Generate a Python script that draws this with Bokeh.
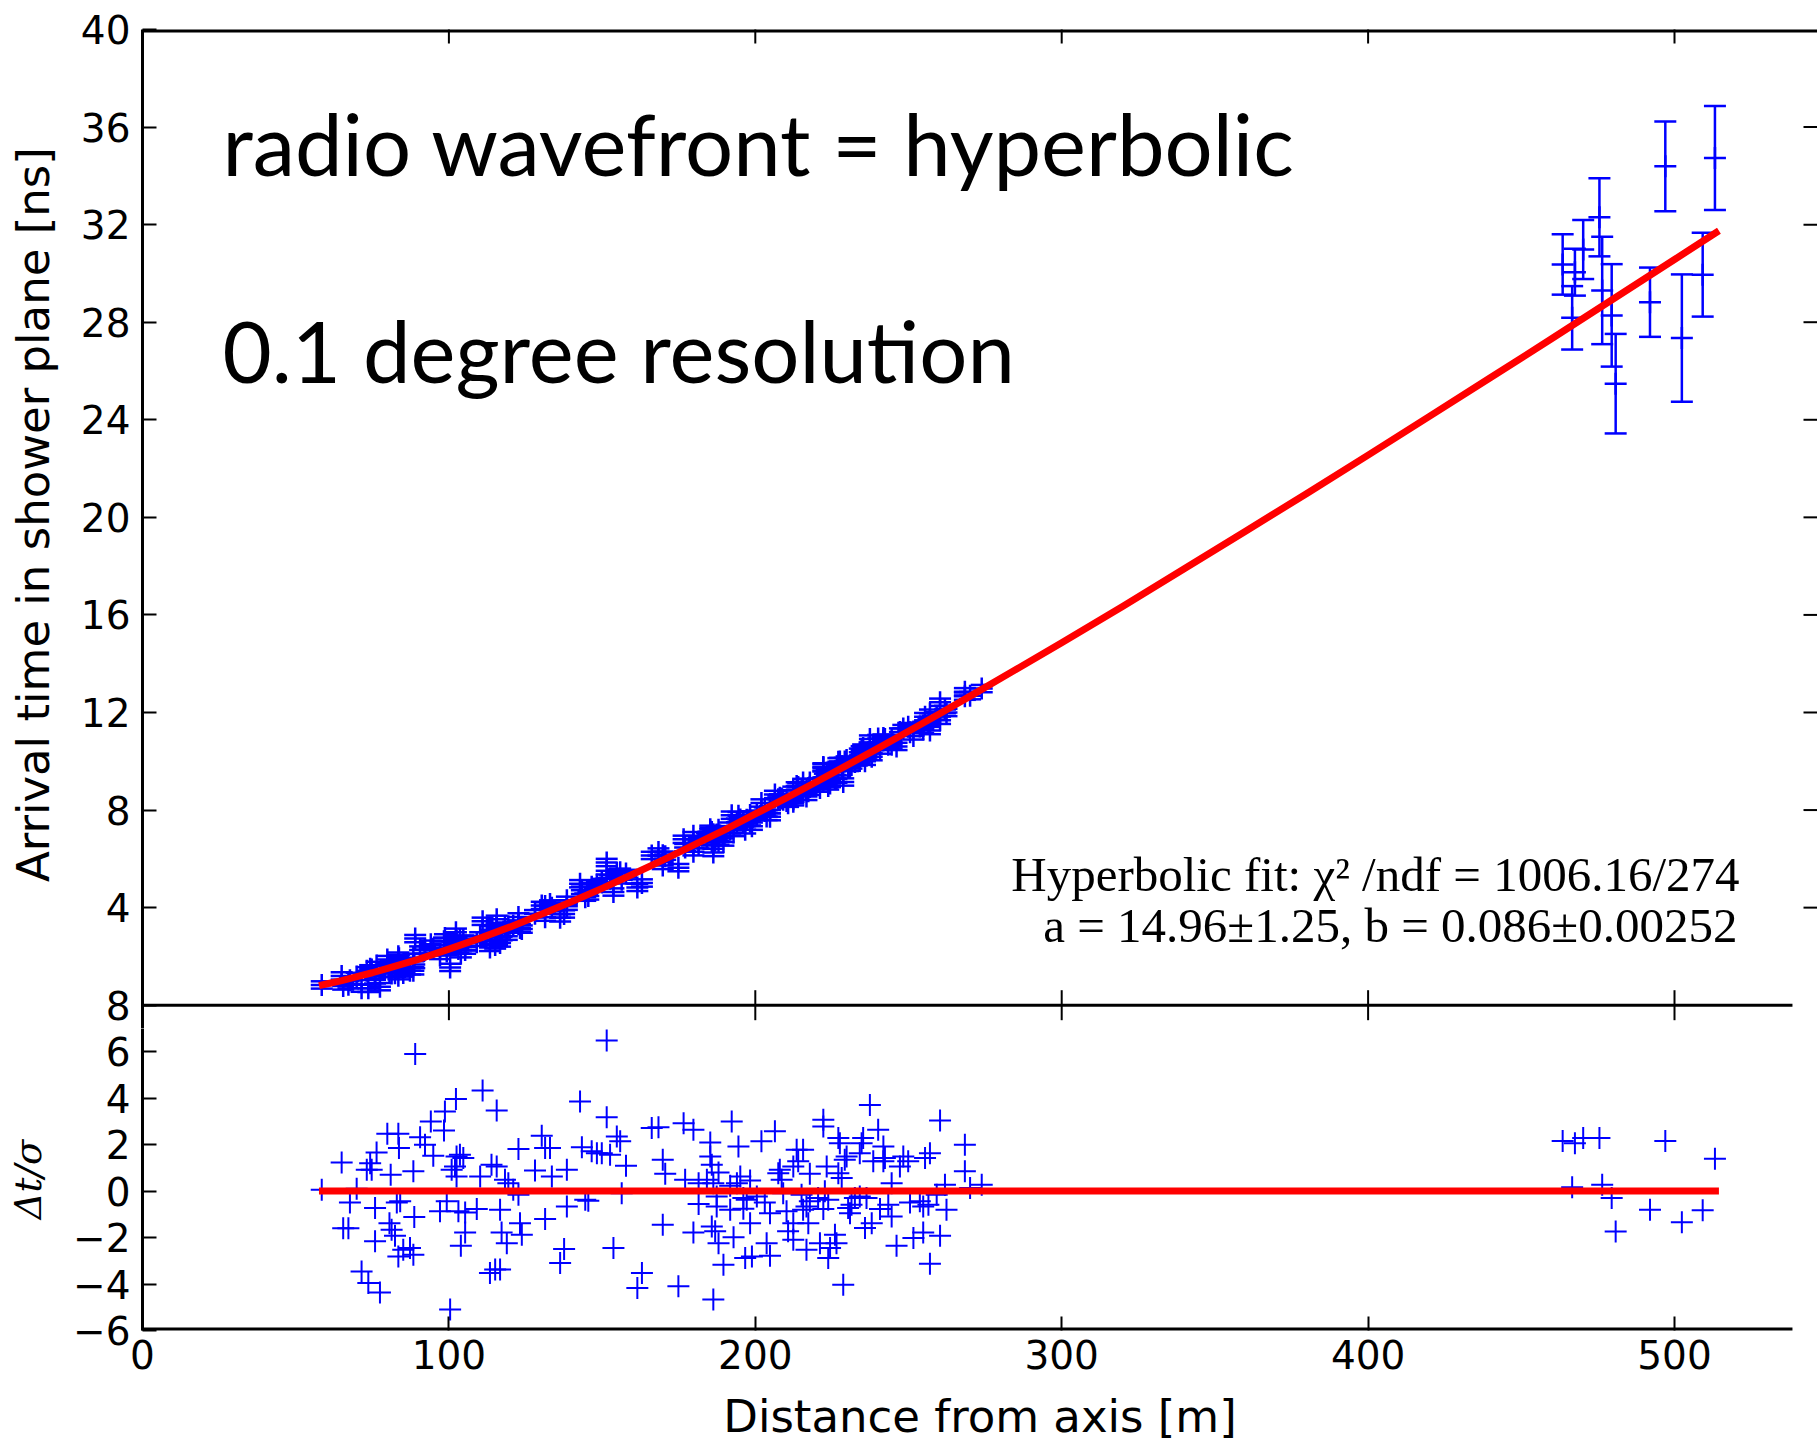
import math
from bokeh.plotting import figure
from bokeh.layouts import column
from bokeh.models import Range1d, FixedTicker, ColumnDataSource, Whisker, TeeHead, Label
from bokeh.embed import file_html
from bokeh.resources import INLINE

# ---------------- data ----------------
# dense group of antennas: distance [m], arrival time [ns], error [ns], residual dt/sigma
near_dist = [
    58.5, 65.0, 67.7, 69.9, 65.5, 67.2, 71.5, 73.7, 77.5, 73.2, 74.8, 74.3, 76.4, 75.9,
    79.9, 83.5, 83.7, 81.0, 75.9, 83.0, 84.1, 80.6, 81.3, 82.4, 83.5, 85.1, 87.3, 88.4,
    89.0, 88.4, 88.7, 90.6, 92.2, 94.1, 94.9, 98.4, 98.7, 102.3, 100.4, 99.3, 97.1, 100.9,
    102.0, 102.5, 103.6, 104.7, 103.1, 105.3, 105.3, 103.9, 102.5, 109.1, 111.0, 115.6,
    113.9, 115.6, 110.2, 116.7, 117.2, 118.9, 113.4, 115.1, 116.7, 118.3, 119.4, 121.0,
    122.7, 123.2, 123.8, 122.7,
    130.3, 131.4, 133.0, 128.1, 133.6, 138.5, 131.4, 138.5, 137.6, 136.3, 142.8, 143.4,
    144.5, 145.5, 146.6, 148.3, 149.9, 151.5, 151.5, 152.6, 154.8, 155.9, 156.4, 157.8,
    153.7, 163.0, 161.5, 166.2, 168.4, 169.8, 170.6, 169.8, 174.9, 176.6, 177.1, 179.8,
    179.8, 181.5, 181.5, 185.3, 185.3, 185.8, 186.3, 185.8, 186.9, 187.4, 188.0, 188.0,
    186.3, 189.6, 191.8, 192.3, 192.9, 194.5, 195.1, 196.1, 196.1, 196.7, 198.3, 198.3,
    198.9,
    202.0, 206.4, 203.1, 204.8, 203.7, 204.8, 208.0, 208.6, 209.1, 210.2, 210.7, 212.4,
    213.5, 214.0, 215.6, 216.7, 217.3, 217.8, 217.8, 216.7, 222.2, 222.2, 222.2, 223.3,
    223.8, 224.4, 226.0, 227.1, 227.6, 227.1, 228.7, 229.2, 229.8, 230.3, 230.9, 232.5,
    234.1, 234.7, 235.2, 235.8, 236.3, 237.4, 238.5, 240.1, 241.8, 241.8, 242.3, 244.5,
    244.5, 246.1, 248.3, 250.5, 251.6, 254.8, 255.4, 257.0, 256.5, 254.8, 257.0, 260.3,
    260.3, 261.9, 262.4, 268.4, 268.4, 270.1, 273.9,
    207.5, 212.4, 215.1, 215.6, 220.5, 222.7, 223.8, 228.2, 231.4, 234.1, 238.0, 240.7,
    243.4, 247.2, 249.9, 253.7, 259.2, 212.4, 221.1, 226.5, 184.2, 194.0, 197.2, 200.5,
    187.4, 191.8,
]
near_time = [
    0.83, 1.20, 1.02, 1.18, 0.79, 0.84, 0.70, 0.69, 0.76, 1.41, 1.46, 1.49, 1.63, 1.04,
    1.87, 2.01, 1.92, 1.65, 1.25, 1.54, 1.59, 1.32, 1.30, 1.31, 1.21, 1.32, 1.41, 1.41,
    2.73, 1.95, 1.67, 2.26, 2.27, 2.50, 2.31, 2.62, 2.76, 2.99, 1.55, 2.20, 2.04, 2.47,
    2.54, 2.63, 2.69, 2.71, 2.30, 2.39, 2.26, 2.11, 2.50, 2.58, 3.44, 3.52, 3.09, 3.16,
    2.84, 2.94, 2.81, 2.83, 2.37, 2.47, 2.55, 3.21, 3.24, 3.27, 3.62, 3.17, 3.12, 3.32,
    4.09, 4.07, 4.15, 3.75, 4.00, 4.30, 3.61, 4.06, 3.74, 3.58, 4.98, 4.71, 4.43, 4.48,
    4.86, 4.94, 5.03, 5.85, 5.36, 5.18, 5.42, 5.45, 5.14, 5.40, 4.64, 5.01, 4.83, 6.14,
    6.28, 6.15, 6.11, 5.73, 5.64, 6.80, 6.46, 6.95, 6.29, 6.71, 6.58, 7.21, 7.12, 7.10,
    7.01, 6.70, 6.74, 6.93, 7.19, 6.73, 6.26, 6.69, 7.34, 7.79, 7.08, 7.77, 7.61, 7.54,
    7.47, 7.19, 7.52, 7.80, 7.34,
    8.29, 8.64, 7.96, 8.01, 7.74, 7.73, 8.50, 8.47, 8.42, 8.37, 8.28, 8.34, 8.99, 8.95,
    9.13, 8.84, 8.77, 9.13, 8.95, 8.56, 9.77, 9.73, 9.19, 9.54, 8.99, 9.09, 9.29, 9.98,
    9.99, 9.76, 9.15, 9.99, 10.05, 9.75, 9.76, 9.97, 10.37, 10.47, 10.54, 10.00, 10.23,
    10.91, 10.62, 10.93, 10.95, 10.85, 10.91, 10.90, 10.68, 10.61, 11.34, 11.19, 11.04,
    11.47, 11.83, 11.97, 11.60, 11.31, 11.26, 11.68, 12.42, 12.12, 12.00, 12.85, 12.67,
    12.69, 12.98,
    8.44, 8.81, 8.81, 8.74, 9.15, 9.34, 9.36, 9.80, 9.85, 10.09, 10.19, 10.46, 10.68,
    11.20, 11.42, 11.43, 11.86, 8.44, 8.90, 9.27, 6.90, 7.50, 7.60, 7.83, 7.00, 7.19,
]
near_err = [
    0.15, 0.15, 0.15, 0.15, 0.15, 0.15, 0.15, 0.15, 0.15, 0.15, 0.15, 0.15, 0.15, 0.15, 0.15, 0.15,
    0.15, 0.15, 0.15, 0.15, 0.15, 0.15, 0.15, 0.15, 0.15, 0.15, 0.15, 0.15, 0.15, 0.15, 0.15, 0.15,
    0.15, 0.15, 0.15, 0.15, 0.15, 0.15, 0.15, 0.15, 0.15, 0.15, 0.15, 0.15, 0.15, 0.15, 0.15, 0.15,
    0.15, 0.15, 0.15, 0.15, 0.15, 0.15, 0.15, 0.15, 0.15, 0.15, 0.15, 0.15, 0.15, 0.15, 0.15, 0.15,
    0.15, 0.15, 0.15, 0.15, 0.15, 0.15, 0.15, 0.15, 0.15, 0.15, 0.15, 0.15, 0.15, 0.15, 0.15, 0.15,
    0.15, 0.15, 0.15, 0.15, 0.15, 0.15, 0.15, 0.15, 0.15, 0.15, 0.15, 0.15, 0.15, 0.15, 0.15, 0.15,
    0.15, 0.15, 0.15, 0.15, 0.15, 0.15, 0.15, 0.15, 0.15, 0.15, 0.15, 0.15, 0.15, 0.15, 0.15, 0.15,
    0.15, 0.15, 0.15, 0.15, 0.15, 0.15, 0.15, 0.15, 0.15, 0.15, 0.15, 0.15, 0.15, 0.15, 0.15, 0.15,
    0.15, 0.15, 0.15, 0.15, 0.15, 0.15, 0.15, 0.15, 0.15, 0.15, 0.15, 0.15, 0.15, 0.15, 0.15, 0.15,
    0.15, 0.15, 0.15, 0.15, 0.15, 0.15, 0.15, 0.15, 0.15, 0.15, 0.15, 0.15, 0.15, 0.15, 0.15, 0.15,
    0.15, 0.15, 0.15, 0.15, 0.15, 0.15, 0.15, 0.15, 0.15, 0.15, 0.15, 0.15, 0.15, 0.15, 0.15, 0.15,
    0.15, 0.15, 0.15, 0.15, 0.15, 0.15, 0.15, 0.15, 0.15, 0.15, 0.15, 0.15, 0.15, 0.15, 0.15, 0.15,
    0.15, 0.15, 0.15, 0.15, 0.15, 0.15, 0.15, 0.15, 0.15, 0.15, 0.15, 0.15, 0.15, 0.15, 0.15, 0.15,
    0.15, 0.15, 0.15, 0.15, 0.15, 0.15, 0.15, 0.15, 0.15, 0.15, 0.15, 0.15, 0.15, 0.15, 0.15, 0.15,
]
near_resid = [
    0.06, 1.23, -0.49, 0.10, -1.60, -1.60, -3.46, -3.96, -4.36, 0.92, 0.92, 1.20, 1.66, -2.16,
    2.47, 2.47, 1.85, 0.70, -0.73, -0.49, -0.44, -1.38, -1.66, -1.92, -2.81, -2.52, -2.45,
    -2.74, 5.90, 0.85, -1.12, 2.32, 1.99, 3.00, 1.52, 2.61, 3.43, 3.96, -5.10, -0.44, -0.87,
    0.92, 1.06, 1.49, 1.56, 1.42, -0.87, -0.92, -1.78, -2.35, 0.63, -0.77, 4.33, 3.47, 1.13,
    1.06, 0.63, -0.80, -1.78, -2.24, -3.53, -3.38, -3.38, 0.49, 0.34, 0.06, 1.81, -1.38,
    -1.88, -0.16,
    2.38, 1.85, 1.85, 0.89, 0.63, 0.92, -1.20, -0.66, -2.49, -3.10, 3.86, 1.89, -0.37, -0.42,
    1.71, 1.63, 1.63, 6.48, 3.18, 1.56, 2.35, 2.14, -0.09, 1.09, -2.45, -3.53, -4.17, 2.71,
    2.75, 1.35, 0.75, -1.45, -4.10, 2.92, 0.49, 2.64, -1.78, 0.34, -0.56, 2.09, 1.49, 1.13,
    0.34, -1.52, -1.73, -0.66, 0.80, -2.24, -4.67, -3.17, 0.23, 3.00, -1.99, 1.92, 0.63,
    -0.30, -0.76, -2.88, -1.38, 0.46, -2.81,
    2.14, 2.57, -0.49, -0.95, -2.24, -2.78, 0.92, 0.49, -0.09, -0.87, -1.73, -2.09, 1.78, 1.28,
    1.78, -0.66, -1.38, 0.75, -0.44, -2.52, 3.07, 2.78, -0.77, 1.06, -2.88, -2.45, -1.88, 2.28,
    2.06, 0.77, -4.03, 1.35, 1.49, -0.73, -0.95, -0.30, 1.63, 2.06, 2.28, -1.59, -0.30, 3.71,
    1.28, 2.64, 1.92, 1.28, 1.42, 0.34, -1.09, -2.35, 1.49, -0.49, -2.02, -0.66, 1.42, 1.63,
    -0.59, -1.78, -3.13, -1.92, 3.04, 0.27, -0.80, 1.99, 0.85, 0.13, 0.27,
    0.77, 1.06, -0.16, -0.80, -0.30, -0.01, -0.37, 0.56, -0.59, -0.23, -1.38, -0.77, -0.59,
    1.06, 1.28, -0.44, -0.16, -1.38, -2.24, -2.24, 0.49, 0.34, -0.37, -0.23, -0.23, -0.80,
]

# distant antennas
far_dist = [463.5, 467.5, 466.6, 470.2, 475.5, 476.4, 479.5, 480.8, 492.0, 497.0, 502.4, 509.2, 513.2]
far_time = [30.37, 30.05, 28.18, 30.98, 32.30, 29.30, 28.28, 25.48, 28.82, 34.39, 27.35, 29.95, 34.73]
far_err = [1.24, 0.96, 1.30, 1.21, 1.60, 2.20, 2.10, 2.04, 1.42, 1.84, 2.61, 1.72, 2.13]
far_resid = [2.16, 2.06, 0.17, 2.28, 2.28, 0.27, -0.30, -1.74, -0.80, 2.16, -1.34, -0.83, 1.39]

# hyperbolic fit curve
fit_dist = [57.6, 60, 65, 70, 75, 80, 90, 100, 110, 120, 130, 140, 150, 160, 170, 180, 190,
            200, 210, 220, 230, 240, 250, 260, 270, 280, 300, 320, 340, 360, 380, 400, 420,
            440, 460, 480, 500, 514.5]
fit_time = [0.80, 0.87, 1.01, 1.17, 1.33, 1.51, 1.88, 2.30, 2.74, 3.21, 3.72, 4.24, 4.79,
            5.37, 5.96, 6.57, 7.19, 7.84, 8.49, 9.16, 9.84, 10.53, 11.23, 11.94, 12.66, 13.39,
            14.86, 16.36, 17.89, 19.43, 20.98, 22.55, 24.14, 25.73, 27.33, 28.95, 30.57, 31.75]
zero_dist = [57.6, 514.5]
zero_val = [0.0, 0.0]

top_ticks = [0, 4, 8, 12, 16, 20, 24, 28, 32, 36, 40]
top_labels = {0: "8"}
right_ticks = [4, 8, 12, 16, 20, 24, 28, 32, 36]
res_ticks = [-6, -4, -2, 0, 2, 4, 6]
res_labels = {-6: "\u22126", -4: "\u22124", -2: "\u22122"}
x_ticks = [0, 100, 200, 300, 400, 500]
mid_ticks = [100, 200, 300, 400, 500]
lower_panel_xmax = 538.5
top_panel_ymax = 40
res_panel_ymin = -6

# ---------------- layout (pixels) ----------------
LEFT, TOP, SPLIT, BOTTOM, W, H = 142, 29, 1028, 1330, 1817, 1443
JUNCTION = 1004.7
X_PER_PX = 500.0 / 1532.0
X_END = (W - LEFT) * X_PER_PX
MAIN_PX = (JUNCTION - TOP) / 40.0
RES_PX = (BOTTOM - JUNCTION) / 14.0
TOP_YMIN = -(SPLIT - JUNCTION) / MAIN_PX


def dx(px):
    return (px - LEFT) * X_PER_PX


def dy(py):
    return 40 - (py - TOP) / MAIN_PX


BLUE = "#0000ff"
RED = "#ff0000"
TICK_FONT = "DejaVu Sans"
TICK_SIZE = "39px"
NBSP = "\u00a0"


def style_axis(ax):
    ax.major_tick_in = 14
    ax.major_tick_out = 0
    ax.minor_tick_line_color = None
    ax.major_tick_line_width = 2
    ax.major_tick_line_color = "black"
    ax.axis_line_width = 3
    ax.axis_line_color = "black"
    ax.major_label_text_font = TICK_FONT
    ax.major_label_text_font_size = TICK_SIZE
    ax.major_label_text_color = "black"
    ax.axis_label_text_color = "black"
    ax.axis_label_text_font_style = "normal"


x_range = Range1d(0, X_END)

# ======== upper panel ========
top = figure(frame_width=W - LEFT, frame_height=SPLIT - TOP, x_range=x_range,
             y_range=Range1d(TOP_YMIN, top_panel_ymax),
             output_backend="svg", toolbar_location=None, x_axis_location=None,
             min_border_left=LEFT, min_border_right=0, min_border_top=TOP, min_border_bottom=0)
top.outline_line_color = None
top.grid.visible = False
top.background_fill_color = "white"
top.border_fill_color = "white"
ya = top.yaxis[0]
style_axis(ya)
ya.ticker = FixedTicker(ticks=top_ticks)
ya.major_label_overrides = top_labels
ya.major_label_standoff = 12
# the two leading no-break spaces centre the visible text on the upper panel only
ya.axis_label = NBSP + NBSP + "Arrival time in shower plane [ns]"
ya.axis_label_text_font = TICK_FONT
ya.axis_label_text_font_size = "45px"
ya.axis_label_standoff = 18

# frame lines and inward ticks of the upper panel
top.segment(x0=[0], y0=[TOP_YMIN], x1=[0], y1=[top_panel_ymax],
            line_color="black", line_width=3)
top.segment(x0=[0], y0=[top_panel_ymax], x1=[X_END], y1=[top_panel_ymax],
            line_color="black", line_width=6)
top.segment(x0=[0], y0=[0], x1=[lower_panel_xmax], y1=[0], line_color="black", line_width=3)
top.scatter(x=mid_ticks, y=[top_panel_ymax] * len(mid_ticks), marker="dash",
            angle=math.pi / 2, size=28, line_color="black", line_width=2)
top.scatter(x=mid_ticks, y=[0] * len(mid_ticks), marker="dash", angle=math.pi / 2, size=30,
            line_color="black", line_width=2)
top.scatter(x=[X_END] * len(right_ticks), y=right_ticks, marker="dash", size=28,
            line_color="black", line_width=2)

near = ColumnDataSource(dict(
    dist=near_dist, time=near_time, resid=near_resid,
    lower=[t - e for t, e in zip(near_time, near_err)],
    upper=[t + e for t, e in zip(near_time, near_err)]))
far = ColumnDataSource(dict(
    dist=far_dist, time=far_time, resid=far_resid,
    lower=[t - e for t, e in zip(far_time, far_err)],
    upper=[t + e for t, e in zip(far_time, far_err)]))

for src in (near, far):
    top.add_layout(Whisker(source=src, base="dist", lower="lower", upper="upper",
                           line_color=BLUE, line_width=2.5,
                           upper_head=TeeHead(size=22, line_color=BLUE, line_width=2.5),
                           lower_head=TeeHead(size=22, line_color=BLUE, line_width=2.5)))
    top.scatter("dist", "time", source=src, marker="cross", size=22,
                line_color=BLUE, line_width=2.5)

top.line(fit_dist, fit_time, line_color=RED, line_width=7, line_join="round")

top.add_layout(Label(x=dx(222), y=dy(142.7), text="radio wavefront = hyperbolic",
                     text_font="Lato", text_font_size="85px", text_color="black",
                     text_align="left", text_baseline="alphabetic"))
top.add_layout(Label(x=dx(222), y=dy(349), text="0.1 degree resolution",
                     text_font="Lato", text_font_size="85px", text_color="black",
                     text_align="left", text_baseline="alphabetic"))
top.add_layout(Label(x=dx(1739), y=dy(874), text="Hyperbolic fit: \u03c7\u00b2 /ndf = 1006.16/274",
                     text_font="Liberation Serif", text_font_size="49px", text_color="black",
                     text_align="right", text_baseline="alphabetic"))
top.add_layout(Label(x=dx(1737), y=dy(924.5), text="a = 14.96\u00b11.25, b = 0.086\u00b10.00252",
                     text_font="Liberation Serif", text_font_size="49px", text_color="black",
                     text_align="right", text_baseline="alphabetic"))

# ======== lower panel (residuals) ========
bot = figure(frame_width=W - LEFT, frame_height=BOTTOM - SPLIT, x_range=x_range,
             y_range=Range1d(res_panel_ymin, res_panel_ymin + (BOTTOM - SPLIT) / RES_PX),
             output_backend="svg", toolbar_location=None,
             min_border_left=LEFT, min_border_right=0, min_border_top=0,
             min_border_bottom=H - BOTTOM)
bot.outline_line_color = None
bot.grid.visible = False
bot.background_fill_color = "white"
bot.border_fill_color = "white"
yb = bot.yaxis[0]
style_axis(yb)
yb.ticker = FixedTicker(ticks=res_ticks)
yb.major_label_overrides = res_labels
yb.major_label_standoff = 12
yb.axis_label = "\u0394t/\u03c3"
yb.axis_label_text_font = "DejaVu Serif"
yb.axis_label_text_font_style = "italic"
yb.axis_label_text_font_size = "37px"
yb.axis_label_standoff = 20

xb = bot.xaxis[0]
style_axis(xb)
xb.ticker = FixedTicker(ticks=x_ticks)
xb.axis_line_color = None
xb.major_label_standoff = 9
xb.axis_label = "Distance from axis [m]"
xb.axis_label_text_font = TICK_FONT
xb.axis_label_text_font_size = "45px"
xb.axis_label_standoff = 18

bot.segment(x0=[0], y0=[res_panel_ymin], x1=[lower_panel_xmax], y1=[res_panel_ymin],
            line_color="black", line_width=6)
for src in (near, far):
    bot.scatter("dist", "resid", source=src, marker="cross", size=22,
                line_color=BLUE, line_width=2)
bot.line(zero_dist, zero_val, line_color=RED, line_width=7)

layout = column(top, bot, spacing=0)
open("out.html", "w").write(file_html(layout, INLINE))
